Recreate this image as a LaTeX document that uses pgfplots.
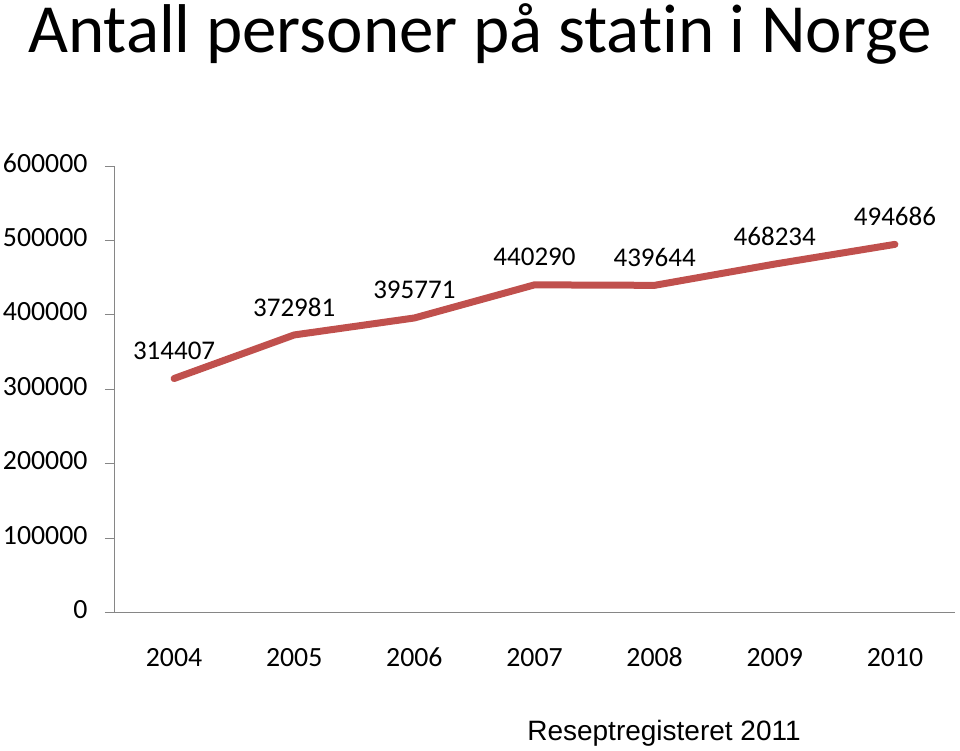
\documentclass[border=0pt]{standalone}
\usepackage{fontspec}
\setmainfont[Ligatures={NoCommon}]{Carlito}
\newfontfamily\arial{Liberation Sans}
\usepackage{pgfplots}
\pgfplotsset{compat=1.18}
\definecolor{axisgray}{RGB}{134,134,134}
\definecolor{lineRed}{RGB}{192,80,77}

\begin{document}
\begin{tikzpicture}[x=1pt,y=1pt]
  \useasboundingbox (0,0) rectangle (960,750);
  % title and source line
  \node[anchor=base, inner sep=0pt, font=\fontsize{69}{71}\selectfont] at (480,697) {Antall personer på statin i Norge};
  \node[anchor=base, inner sep=0pt, font=\arial\fontsize{28}{30}\selectfont] at (664,10) {Reseptregisteret 2011};
  \begin{axis}[
      at={(114pt,137.5pt)}, anchor=south west,
      scale only axis, width=841pt, height=446.5pt,
      xmin=0.5, xmax=7.5, ymin=0, ymax=600000,
      axis x line*=bottom, axis y line*=left,
      axis line style={axisgray, line width=1pt, -},
      xtick={1,...,7},
      xticklabels={2004,2005,2006,2007,2008,2009,2010},
      ytick={0,100000,...,600000},
      scaled y ticks=false,
      /pgf/number format/.cd, fixed, 1000 sep={}, assume math mode=true, /pgfplots/.cd,
      tick align=outside,
      major tick length=9pt,
      tick style={axisgray, line width=1pt},
      xtick style={draw=none},
      extra x ticks={0.5,1.5,...,7.5},
      extra x tick labels={},
      extra x tick style={tick style={axisgray, line width=1pt, draw=axisgray}},
      ticklabel style={font=\fontsize{27.8}{30}\selectfont},
      typeset ticklabels with strut,
      yticklabel style={anchor=east, xshift=-14pt},
      xticklabel style={yshift=-20pt},
      nodes near coords,
      point meta=explicit symbolic,
      every node near coord/.append style={anchor=center, yshift=28pt, font=\fontsize{27}{30}\selectfont, black},
      clip=false,
    ]
    \addplot[lineRed, line width=7pt, line cap=round, line join=round] coordinates {
      (1,314407) [314407]
      (2,372981) [372981]
      (3,395771) [395771]
      (4,440290) [440290]
      (5,439644) [439644]
      (6,468234) [468234]
      (7,494686) [494686]
    };
  \end{axis}
\end{tikzpicture}
\end{document}
